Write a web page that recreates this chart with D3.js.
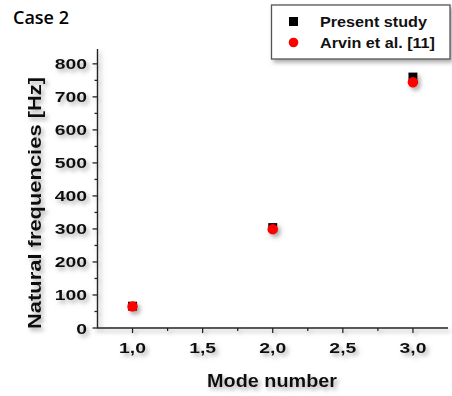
<!DOCTYPE html>
<html>
<head>
<meta charset="utf-8">
<script src="https://cdn.jsdelivr.net/npm/d3@7"></script>
<style>
    html, body { margin: 0; padding: 0; background: #fff; }
    svg { display: block; }
</style>
</head>
<body>
<svg id="chart"></svg>
<script>
// Chart data
const modeNumbers = [1, 2, 3];
const presentStudy = [66, 304, 760];
const arvinEtAl = [65, 299, 744];
const seriesNames = ["Present study", "Arvin et al. [11]"];
const xTickValues = [1.0, 1.5, 2.0, 2.5, 3.0];
const yTickValues = [0, 100, 200, 300, 400, 500, 600, 700, 800];

const width = 452;
const height = 396;

document.addEventListener('DOMContentLoaded', () => {
    const svg = d3.select('#chart')
        .attr('width', width)
        .attr('height', height);

    addShadow(svg);

    const x = d3.scaleLinear().domain([0.75, 3.25]).range([97.5, 448]);
    const y = d3.scaleLinear().domain([0, 845]).range([328, 49]);

    drawAxes(svg, x, y);
    drawPoints(svg, x, y);
    drawLegend(svg);

    // Title in the corner
    svg.append('text')
        .attr('x', 13)
        .attr('y', 24)
        .attr('font-family', '"Open Sans", sans-serif')
        .attr('font-size', 18)
        .attr('font-weight', 600)
        .attr('fill', '#000')
        .text('Case 2');
});

// Soft grey drop shadow used on nearly everything
function addShadow(svg) {
    const filter = svg.append('defs').append('filter')
        .attr('id', 'shadow')
        .attr('x', '-30%').attr('y', '-30%')
        .attr('width', '160%').attr('height', '160%');
    filter.append('feDropShadow')
        .attr('dx', 2.5)
        .attr('dy', 3)
        .attr('stdDeviation', 2)
        .attr('flood-color', '#777')
        .attr('flood-opacity', 0.6);
}

// Stretch text horizontally like the original (wide bold font)
function stretch(selection, factor) {
    selection.each(function () {
        const len = this.getComputedTextLength();
        d3.select(this)
            .attr('textLength', len * factor)
            .attr('lengthAdjust', 'spacingAndGlyphs');
    });
}

function drawAxes(svg, x, y) {
    const g = svg.append('g').attr('filter', 'url(#shadow)');
    const axisColor = '#222';

    // axis lines
    g.append('line')
        .attr('x1', x.range()[0]).attr('x2', x.range()[0])
        .attr('y1', y.range()[1]).attr('y2', y.range()[0] + 0.5)
        .attr('stroke', axisColor).attr('stroke-width', 1.4);
    g.append('line')
        .attr('x1', x.range()[0]).attr('x2', x.range()[1])
        .attr('y1', y.range()[0]).attr('y2', y.range()[0])
        .attr('stroke', axisColor).attr('stroke-width', 1.4);

    // y ticks, major and minor
    const yMinor = d3.range(50, 800, 100);
    g.selectAll('.ytick')
        .data(yTickValues)
        .enter().append('line')
        .attr('x1', x.range()[0] - 5).attr('x2', x.range()[0])
        .attr('y1', d => y(d)).attr('y2', d => y(d))
        .attr('stroke', axisColor).attr('stroke-width', 1.3);
    g.selectAll('.yminor')
        .data(yMinor)
        .enter().append('line')
        .attr('x1', x.range()[0] - 3).attr('x2', x.range()[0])
        .attr('y1', d => y(d)).attr('y2', d => y(d))
        .attr('stroke', axisColor).attr('stroke-width', 1.3);

    // x ticks, major and minor
    const xMinor = [1.25, 1.75, 2.25, 2.75];
    g.selectAll('.xtick')
        .data(xTickValues)
        .enter().append('line')
        .attr('x1', d => x(d)).attr('x2', d => x(d))
        .attr('y1', y.range()[0]).attr('y2', y.range()[0] + 5)
        .attr('stroke', axisColor).attr('stroke-width', 1.3);
    g.selectAll('.xminor')
        .data(xMinor)
        .enter().append('line')
        .attr('x1', d => x(d)).attr('x2', d => x(d))
        .attr('y1', y.range()[0]).attr('y2', y.range()[0] + 3)
        .attr('stroke', axisColor).attr('stroke-width', 1.3);

    const font = '"Liberation Sans", Arial, sans-serif';

    // tick labels
    const yLabels = g.selectAll('.ylabel')
        .data(yTickValues)
        .enter().append('text')
        .attr('x', 87)
        .attr('y', d => y(d) + 5.5)
        .attr('text-anchor', 'end')
        .attr('font-family', font)
        .attr('font-weight', 'bold')
        .attr('font-size', 15.5)
        .attr('fill', '#111')
        .text(d => d);
    stretch(yLabels, 1.25);

    const xLabels = g.selectAll('.xlabel')
        .data(xTickValues)
        .enter().append('text')
        .attr('x', d => x(d))
        .attr('y', 353)
        .attr('text-anchor', 'middle')
        .attr('font-family', font)
        .attr('font-weight', 'bold')
        .attr('font-size', 15.5)
        .attr('fill', '#111')
        .text(d => d.toFixed(1).replace('.', ','));
    stretch(xLabels, 1.25);

    // axis titles
    g.append('text')
        .attr('x', 272)
        .attr('y', 387)
        .attr('text-anchor', 'middle')
        .attr('font-family', font)
        .attr('font-weight', 'bold')
        .attr('font-size', 19)
        .attr('fill', '#111')
        .attr('textLength', 130)
        .attr('lengthAdjust', 'spacingAndGlyphs')
        .text('Mode number');

    g.append('text')
        .attr('transform', 'translate(41,203) rotate(-90)')
        .attr('text-anchor', 'middle')
        .attr('font-family', font)
        .attr('font-weight', 'bold')
        .attr('font-size', 18)
        .attr('fill', '#111')
        .attr('textLength', 252)
        .attr('lengthAdjust', 'spacingAndGlyphs')
        .text('Natural frequencies [Hz]');
}

function drawPoints(svg, x, y) {
    const g = svg.append('g').attr('filter', 'url(#shadow)');
    const size = 9;

    g.selectAll('.present')
        .data(modeNumbers)
        .enter().append('rect')
        .attr('x', (d, i) => x(d) - size / 2)
        .attr('y', (d, i) => y(presentStudy[i]) - size / 2)
        .attr('width', size)
        .attr('height', size)
        .attr('fill', '#000');

    g.selectAll('.arvin')
        .data(modeNumbers)
        .enter().append('circle')
        .attr('cx', d => x(d))
        .attr('cy', (d, i) => y(arvinEtAl[i]))
        .attr('r', 5.3)
        .attr('fill', '#ff0000');
}

function drawLegend(svg) {
    const g = svg.append('g');

    g.append('rect')
        .attr('x', 271.5)
        .attr('y', 5)
        .attr('width', 178.5)
        .attr('height', 54)
        .attr('fill', '#fff')
        .attr('stroke', '#555')
        .attr('stroke-width', 1.3)
        .attr('filter', 'url(#shadow)');

    g.append('rect')
        .attr('x', 289)
        .attr('y', 17)
        .attr('width', 9)
        .attr('height', 9)
        .attr('fill', '#000');
    g.append('circle')
        .attr('cx', 293.5)
        .attr('cy', 42.5)
        .attr('r', 4.8)
        .attr('fill', '#ff0000');

    const lengths = [107, 115];
    g.selectAll('.legendText')
        .data(seriesNames)
        .enter().append('text')
        .attr('x', 320)
        .attr('y', (d, i) => 27 + i * 21)
        .attr('font-family', '"Liberation Sans", Arial, sans-serif')
        .attr('font-weight', 'bold')
        .attr('font-size', 15)
        .attr('fill', '#111')
        .attr('textLength', (d, i) => lengths[i])
        .attr('lengthAdjust', 'spacingAndGlyphs')
        .text(d => d);
}
</script>
</body>
</html>
